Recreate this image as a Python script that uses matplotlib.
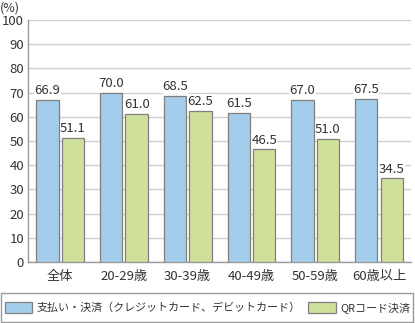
import numpy as np
import matplotlib.pyplot as plt
from matplotlib.patches import Patch, Rectangle

plt.rcParams['font.family'] = ['Noto Sans CJK JP', 'DejaVu Sans']

categories = ["全体", "20-29歳", "30-39歳", "40-49歳", "50-59歳", "60歳以上"]
card = [66.9, 70.0, 68.5, 61.5, 67.0, 67.5]
qr = [51.1, 61.0, 62.5, 46.5, 51.0, 34.5]
series_names = ["支払い・決済（クレジットカード、デビットカード）", "QRコード決済"]

blue = "#a3cdeb"
green = "#cfe09a"
edge = "#7f7f7f"
text_col = "#333333"

fig = plt.figure(figsize=(4.15, 3.23), dpi=100)
ax = fig.add_axes([0.068, 0.189, 0.922, 0.749])

x = np.arange(len(categories))
w = 0.35
off = 0.2
b1 = ax.bar(x - off, card, w, color=blue, edgecolor=edge, linewidth=0.9, zorder=3)
b2 = ax.bar(x + off, qr, w, color=green, edgecolor=edge, linewidth=0.9, zorder=3)

for bars, vals in ((b1, card), (b2, qr)):
    for r, v in zip(bars, vals):
        ax.text(r.get_x() + r.get_width() / 2, v + 1.2, f"{v:.1f}",
                ha="center", va="bottom", fontsize=9.5, color=text_col, zorder=4,
                bbox=dict(facecolor="white", edgecolor="none", pad=0.3))

ax.set_xlim(-0.5, len(categories) - 0.5)
ax.set_ylim(0, 100)
ax.set_yticks(range(0, 101, 10))
ax.set_xticks(x)
ax.set_xticklabels(categories)
ax.tick_params(axis="both", length=0, labelsize=9.5, colors=text_col)
ax.tick_params(axis="x", pad=6)
ax.tick_params(axis="y", pad=3)
ax.grid(axis="y", color="#d0d0d0", linewidth=1.0, zorder=0)
for s in ("top", "right"):
    ax.spines[s].set_visible(False)
for s in ("left", "bottom"):
    ax.spines[s].set_color("#999999")
    ax.spines[s].set_linewidth(1.0)

fig.text(0.0, 0.995, "(%)", ha="left", va="top", fontsize=9, color=text_col)

# legend box spans the whole width under the chart
fig.patches.append(Rectangle((0.003, 0.004), 0.992, 0.088, transform=fig.transFigure,
                             facecolor="white", edgecolor="#999999", linewidth=1.0))
handles = [Patch(facecolor=blue, edgecolor=edge, linewidth=0.9),
           Patch(facecolor=green, edgecolor=edge, linewidth=0.9)]
leg = fig.legend(handles, series_names, loc="center", bbox_to_anchor=(0.5, 0.048),
                 ncol=2, fontsize=7.9, frameon=False,
                 handlelength=2.5, handleheight=1.1, handletextpad=0.4,
                 columnspacing=0.7, borderaxespad=0.0, borderpad=0.0)
for t in leg.get_texts():
    t.set_color(text_col)

fig.savefig("out.png", dpi=100)
